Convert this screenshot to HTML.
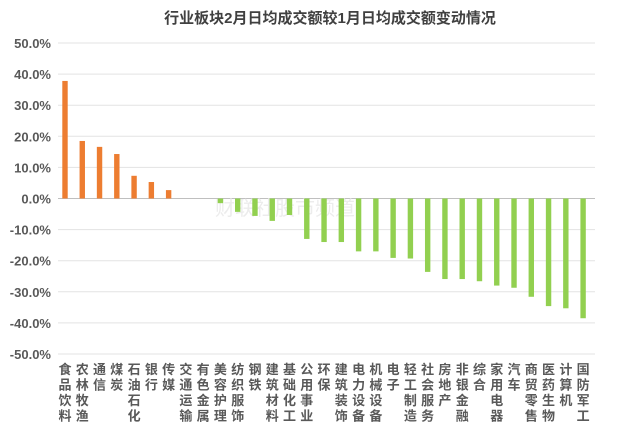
<!DOCTYPE html>
<html><head><meta charset="utf-8"><style>
body{margin:0;background:#fff;width:640px;height:422px;overflow:hidden}
svg{display:block}
text{font-family:"Liberation Sans","Noto Sans CJK SC",sans-serif}
</style></head><body>
<svg width="640" height="422" xmlns="http://www.w3.org/2000/svg">
<text x="330" y="23" text-anchor="middle" font-size="15" font-weight="bold" fill="#404040">行业板块2月日均成交额较1月日均成交额变动情况</text>
<g id="grid"></g>
<text x="215" y="215" font-size="20" fill="#e8e8e8" opacity="0.8">财联社股市频道</text>
<g id="bars"></g>
<g id="labels"></g>
</svg>
<script>
const ns="http://www.w3.org/2000/svg";
const cats=["食品饮料","农林牧渔","通信","煤炭","石油石化","银行","传媒","交通运输","有色金属","美容护理","纺织服饰","钢铁","建筑材料","基础化工","公用事业","环保","建筑装饰","电力设备","机械设备","电子","轻工制造","社会服务","房地产","非银金融","综合","家用电器","汽车","商贸零售","医药生物","计算机","国防军工"];
const vals=[37.8,18.5,16.6,14.3,7.3,5.3,2.7,0,0,-1.5,-4.3,-5.6,-7.2,-5.3,-13,-14,-14,-17,-17,-19.1,-19.3,-23.6,-25.9,-25.9,-26.6,-28,-28.7,-31.6,-34.6,-35.3,-38.5];
const y0=198.5,k=3.11;
const g=document.getElementById("grid");
for(let v=50;v>=-50;v-=10){
 const y=y0-v*k;
 const l=document.createElementNS(ns,"line");
 l.setAttribute("x1",58);l.setAttribute("x2",595);l.setAttribute("y1",y);l.setAttribute("y2",y);
 l.setAttribute("stroke",v==0?"#bfbfbf":"#e3e3e3");l.setAttribute("stroke-width",1);
 g.appendChild(l);
 const t=document.createElementNS(ns,"text");
 t.setAttribute("x",51);t.setAttribute("y",y+5);t.setAttribute("text-anchor","end");
 t.setAttribute("font-size","13");t.setAttribute("font-weight","bold");t.setAttribute("fill","#595959");
 t.textContent=v.toFixed(1)+"%";g.appendChild(t);
}
const b=document.getElementById("bars"),lb=document.getElementById("labels");
cats.forEach((c,i)=>{
 const x=65+i*17.27,v=vals[i];
 if(v!=0){
  const r=document.createElementNS(ns,"rect");
  const y=v>0?y0-v*k:y0;
  r.setAttribute("x",x-2.7);r.setAttribute("width",5.4);r.setAttribute("y",y);r.setAttribute("height",Math.abs(v)*k);
  r.setAttribute("fill",v>0?"#ED7D31":"#92D050");b.appendChild(r);
 }
 [...c].forEach((ch,j)=>{
  const t=document.createElementNS(ns,"text");
  t.setAttribute("x",x);t.setAttribute("y",374+j*15.5);t.setAttribute("text-anchor","middle");
  t.setAttribute("font-size","13");t.setAttribute("font-weight","bold");t.setAttribute("fill","#595959");
  t.textContent=ch;lb.appendChild(t);
 });
});
</script>
</body></html>
